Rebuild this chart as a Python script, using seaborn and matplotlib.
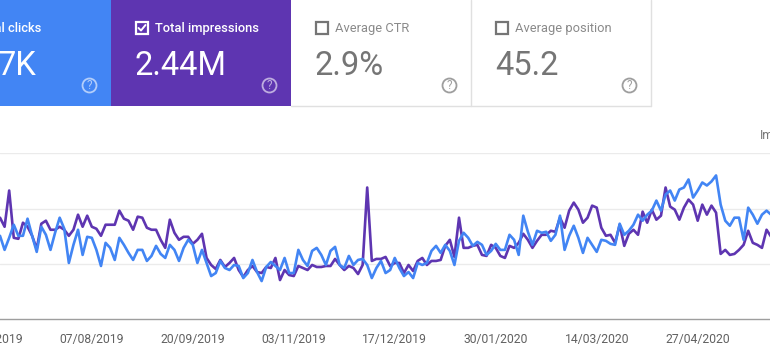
import matplotlib
matplotlib.use("Agg")
import matplotlib.pyplot as plt
from matplotlib.patches import Rectangle, Circle
import pandas as pd
import seaborn as sns

# Readings taken every 2nd day, in axis units; gridlines sit at 55 / 110 / 165
impressions = [
    101, 92, 128, 81, 80, 96, 92, 83, 70, 95, 98, 89, 89, 92, 89, 83, 89, 104, 92, 103,
    92, 90, 83, 94, 94, 94, 108, 100, 98, 89, 102, 101, 91, 89, 89, 79, 71, 99, 86, 79,
    82, 82, 75, 79, 85, 61, 54, 50, 59, 52, 56, 61, 49, 42, 49, 53, 47, 46, 52, 51,
    61, 39, 49, 44, 43, 53, 51, 49, 54, 52, 52, 53, 53, 60, 54, 49, 53, 51, 45, 54,
    131, 58, 60, 60, 62, 53, 56, 56, 46, 54, 48, 58, 61, 54, 58, 58, 59, 73, 79, 62,
    101, 71, 71, 73, 74, 64, 63, 74, 71, 63, 61, 73, 71, 76, 85, 79, 71, 78, 84, 84,
    88, 87, 101, 91, 108, 116, 109, 96, 101, 113, 111, 91, 83, 84, 76, 94, 73, 85, 89, 84,
    107, 96, 109, 99, 103, 131, 112, 109, 99, 111, 119, 114, 98, 114, 104, 113, 106, 65, 69, 64,
    65, 69, 74, 88, 76, 74, 71, 89, 82,
]
clicks = [
    83, 69, 81, 94, 83, 83, 100, 83, 67, 92, 84, 69, 86, 101, 90, 56, 74, 89, 64, 82,
    81, 69, 53, 76, 71, 59, 81, 74, 66, 59, 69, 69, 58, 63, 73, 65, 61, 74, 69, 58,
    71, 79, 74, 56, 69, 56, 43, 46, 58, 51, 49, 54, 53, 41, 46, 59, 47, 38, 52, 57,
    53, 49, 61, 46, 46, 69, 59, 53, 68, 71, 64, 54, 68, 72, 54, 51, 63, 54, 59, 60,
    54, 41, 51, 58, 46, 49, 61, 51, 43, 47, 41, 56, 54, 56, 68, 73, 66, 74, 68, 54,
    78, 86, 81, 73, 77, 74, 64, 68, 75, 69, 69, 84, 79, 64, 103, 87, 74, 88, 86, 87,
    78, 84, 103, 69, 83, 93, 81, 66, 81, 74, 67, 79, 78, 75, 74, 95, 84, 88, 94, 104,
    98, 104, 108, 118, 108, 124, 128, 118, 129, 131, 139, 121, 128, 136, 133, 137, 143, 114, 98, 93,
    101, 101, 79, 111, 104, 95, 104, 108, 104,
]
tick_dates = ["2019-08-07", "2019-09-20", "2019-11-03", "2019-12-17",
              "2020-01-30", "2020-03-14", "2020-04-27"]
tick_labels = ["07/08/2019", "20/09/2019", "03/11/2019", "17/12/2019",
               "30/01/2020", "14/03/2020", "27/04/2020"]
grid_values = [55, 110, 165]

BLUE, PURPLE = "#4285f4", "#5e35b1"
GREY = "#757575"
TICK = "#616161"

sns.set_theme(style="white")
plt.rcParams["font.family"] = ["Roboto", "DejaVu Sans"]

W, H = 770, 361
fig = plt.figure(figsize=(W / 100, H / 100), dpi=100, facecolor="white")

dates = pd.date_range("2019-06-28", periods=len(impressions), freq="2D")
df = pd.DataFrame({"date": dates, "Impressions": impressions, "Clicks": clicks})

ax = fig.add_axes([0, (H - 319.3) / H, 1, 166 / H])
sns.lineplot(data=df, x="date", y="Impressions", color=PURPLE, lw=1.9, ax=ax)
sns.lineplot(data=df, x="date", y="Clicks", color=BLUE, lw=1.9, ax=ax)
ax.set_xlim(pd.Timestamp("2019-06-28"), pd.Timestamp("2019-06-28") + pd.Timedelta(days=335.5))
ax.set_ylim(0, 165)
ax.set_yticks(grid_values)
ax.tick_params(axis="y", left=False, labelleft=False)
ax.set_xticks(pd.to_datetime(tick_dates))
ax.set_xticklabels(tick_labels, fontsize=8.7, color=TICK)
ax.tick_params(axis="x", bottom=False, pad=4.2)
ax.set_xlabel("")
ax.set_ylabel("")
ax.grid(axis="y", color="#ebebeb", lw=1)
ax.set_axisbelow(True)
for s in ("top", "left", "right"):
    ax.spines[s].set_visible(False)
ax.spines["bottom"].set_color("#9e9e9e")
ax.spines["bottom"].set_linewidth(1)
ax.patch.set_alpha(0)
ax.annotate("24/06/2019", (pd.Timestamp("2019-06-24"), 0), xycoords=("data", "axes fraction"),
            xytext=(0, -14.2), textcoords="offset points", ha="center", va="center",
            fontsize=8.7, color=TICK, annotation_clip=False)

# Overlay in figure pixels for the metric cards
ov = fig.add_axes([0, 0, 1, 1], zorder=5)
ov.set_xlim(0, W)
ov.set_ylim(H, 0)
ov.axis("off")

ov.add_patch(Rectangle((0, 0), 111, 105.5, color=BLUE, lw=0))
ov.add_patch(Rectangle((111, 0), 180, 105.5, color=PURPLE, lw=0))
ov.plot([291, 651], [105.5, 105.5], color="#e0e0e0", lw=1)
ov.plot([470.5, 470.5], [0, 105.5], color="#e0e0e0", lw=1)
ov.plot([650.5, 650.5], [0, 105.5], color="#e0e0e0", lw=1)


def help_icon(cx, color, alpha=1.0):
    ov.add_patch(Circle((cx, 85.5), 7, fill=False, ec=color, lw=1.3, alpha=alpha))
    ov.text(cx, 85.8, "?", color=color, alpha=alpha, fontsize=8.5, ha="center", va="center")


def checkbox(x, color, checked=False):
    ov.add_patch(Rectangle((x + 0.75, 21.75), 12.5, 12.5, fill=False, ec=color, lw=1.6))
    if checked:
        ov.plot([x + 3.5, x + 6, x + 10.5], [28, 30.5, 25], color=color, lw=1.4)


ov.text(41, 28.3, "Total clicks", color="white", fontsize=9.3, fontweight="medium",
        ha="right", va="center")
ov.text(37, 66, "7K", color="white", fontsize=23.5, ha="right", va="center")
help_icon(89.5, "white", 0.6)

checkbox(135, "white", True)
ov.text(155, 28.3, "Total impressions", color="white", fontsize=9.3, fontweight="medium",
        ha="left", va="center")
ov.text(135, 66, "2.44M", color="white", fontsize=23.5, ha="left", va="center")
help_icon(269.5, "white", 0.6)

checkbox(315, GREY)
ov.text(335, 28.3, "Average CTR", color="#8a8a8a", fontsize=9.3, ha="left", va="center")
ov.text(315, 66, "2.9%", color=GREY, fontsize=23.5, ha="left", va="center")
help_icon(449.5, "#9e9e9e")

checkbox(495, GREY)
ov.text(515, 28.3, "Average position", color="#8a8a8a", fontsize=9.3, ha="left", va="center")
ov.text(495, 66, "45.2", color=GREY, fontsize=23.5, ha="left", va="center")
help_icon(629.5, "#9e9e9e")

ov.text(760, 136, "Impressions", color=GREY, fontsize=8.7, ha="left", va="center")

fig.savefig("out.png", dpi=100)
